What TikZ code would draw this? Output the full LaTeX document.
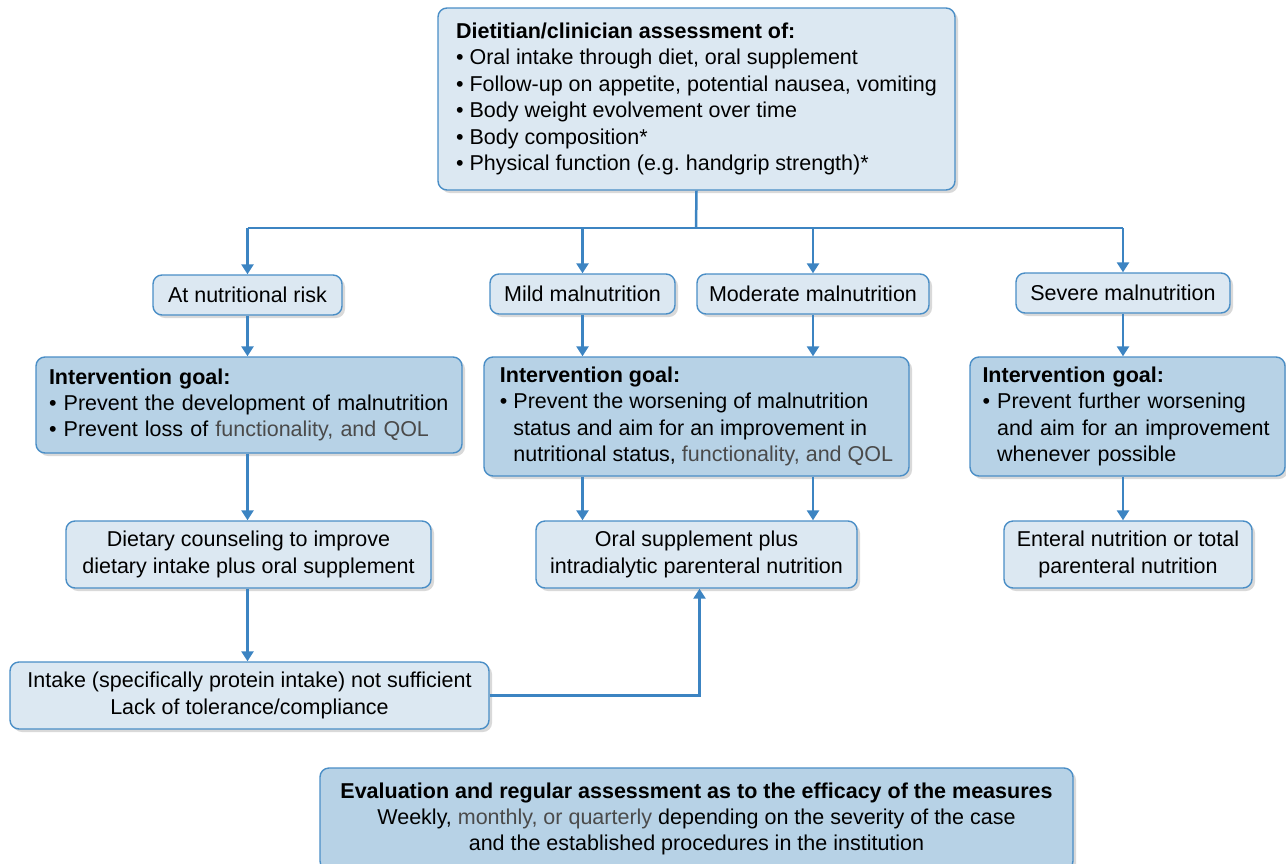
\documentclass[tikz,border=0pt]{standalone}
\usepackage{fontspec}
\setmainfont{Liberation Sans}
\usetikzlibrary{arrows.meta,shadows,calc}
\definecolor{lightbox}{HTML}{DCE8F2}
\definecolor{goalbox}{HTML}{B7D2E6}
\definecolor{edgeblue}{HTML}{4A8EC6}
\definecolor{arrowblue}{HTML}{3C84C2}
\definecolor{softgray}{HTML}{4A4A4A}
\frenchspacing
\tikzset{
  basebox/.style={draw=edgeblue, line width=1.4pt, rounded corners=9pt, inner sep=0pt,
    font=\fontsize{21.5}{26.4}\selectfont,
    drop shadow={shadow xshift=3pt, shadow yshift=-3pt, opacity=0.25, fill=black!60}},
  lbox/.style={basebox, fill=lightbox, align=center},
  gbox/.style={basebox, fill=goalbox},
  conn/.style={draw=arrowblue, line width=2.5pt},
  arr/.style={conn, -{Triangle[width=12pt,length=10pt]}}
}
\newcommand{\bul}{\textbullet\ }
\newcommand{\hng}{\phantom{\textbullet\ }}
\begin{document}
\begin{tikzpicture}[x=1pt,y=-1pt]
\path[use as bounding box] (0,0) rectangle (1286,863);
% top box
\node[gbox, fill=lightbox, minimum width=517, minimum height=182, align=left]
  (top) at (696.5,99)
  {\textbf{Dietitian/clinician assessment of:}\\
   \bul Oral intake through diet, oral supplement\\
   \bul Follow-up on appetite, potential nausea, vomiting\\
   \bul Body weight evolvement over time\\
   \bul Body composition*\\
   \bul Physical function (e.g. handgrip strength)*};
% row 2
\node[lbox, minimum width=189, minimum height=40] (risk) at (247.5,295) {At nutritional risk};
\node[lbox, minimum width=185, minimum height=40] (mild) at (582.5,294) {Mild malnutrition};
\node[lbox, minimum width=232, minimum height=40] (moder) at (813,294) {Moderate malnutrition};
\node[lbox, minimum width=214, minimum height=40] (severe) at (1123,293) {Severe malnutrition};
% row 3
\node[gbox, minimum width=426, minimum height=96, text width=400, align=left] (goal1) at (249,405)
  {\textbf{Intervention goal:}\\
   \bul Prevent the development of malnutrition\\
   \bul Prevent loss of \textcolor{softgray}{functionality, and QOL}};
\node[gbox, minimum width=425, minimum height=119, align=left] (goal2) at (696.5,416.5)
  {\textbf{Intervention goal:}\\
   \bul Prevent the worsening of malnutrition\\
   \hng status and aim for an improvement in\\
   \hng nutritional status, \textcolor{softgray}{functionality, and QOL}};
\node[gbox, minimum width=315, minimum height=119, text width=290, align=left] (goal3) at (1127.5,416.5)
  {\textbf{Intervention goal:}\\
   \bul Prevent further worsening\\
   \hng and aim for an improvement\\
   \hng whenever possible};
% row 4
\node[lbox, minimum width=365, minimum height=67] (diet) at (248.5,554.5)
  {Dietary counseling to improve\\dietary intake plus oral supplement};
\node[lbox, minimum width=321, minimum height=67] (oral) at (696.5,554.5)
  {Oral supplement plus\\intradialytic parenteral nutrition};
\node[lbox, minimum width=248, minimum height=67] (enteral) at (1128,554.5)
  {Enteral nutrition or total\\parenteral nutrition};
% row 5
\node[lbox, minimum width=479, minimum height=67] (intake) at (249.5,695.5)
  {Intake (specifically protein intake) not sufficient\\Lack of tolerance/compliance};
% bottom
\node[gbox, minimum width=753, minimum height=102, align=center] (eval) at (696.5,819)
  {\textbf{Evaluation and regular assessment as to the efficacy of the measures}\\
   Weekly, \textcolor{softgray}{monthly, or quarterly} depending on the severity of the case\\
   and the established procedures in the institution};
% connectors
\coordinate (bar) at (696,228);
\draw[conn] (top.south) -- (bar);
\draw[conn] (risk.north |- bar) -- (severe.north |- bar);
\draw[arr] (risk.north |- bar) -- (risk.north);
\draw[arr] (mild.north |- bar) -- (mild.north);
\draw[arr] (moder.north |- bar) -- (moder.north);
\draw[arr] (severe.north |- bar) -- (severe.north);
\draw[arr] (risk.south) -- (risk.south |- goal1.north);
\draw[arr] (mild.south) -- (mild.south |- goal2.north);
\draw[arr] (moder.south) -- (moder.south |- goal2.north);
\draw[arr] (severe.south) -- (severe.south |- goal3.north);
\draw[arr] (goal1.south -| risk.south) -- (risk.south |- diet.north);
\draw[arr] (goal2.south -| mild.south) -- (mild.south |- oral.north);
\draw[arr] (goal2.south -| moder.south) -- (moder.south |- oral.north);
\draw[arr] (goal3.south -| severe.south) -- (severe.south |- enteral.north);
\draw[arr] (diet.south -| risk.south) -- (risk.south |- intake.north);
\draw[arr] (intake.east) -| ($(oral.south)+(3,0)$);
\end{tikzpicture}
\end{document}
